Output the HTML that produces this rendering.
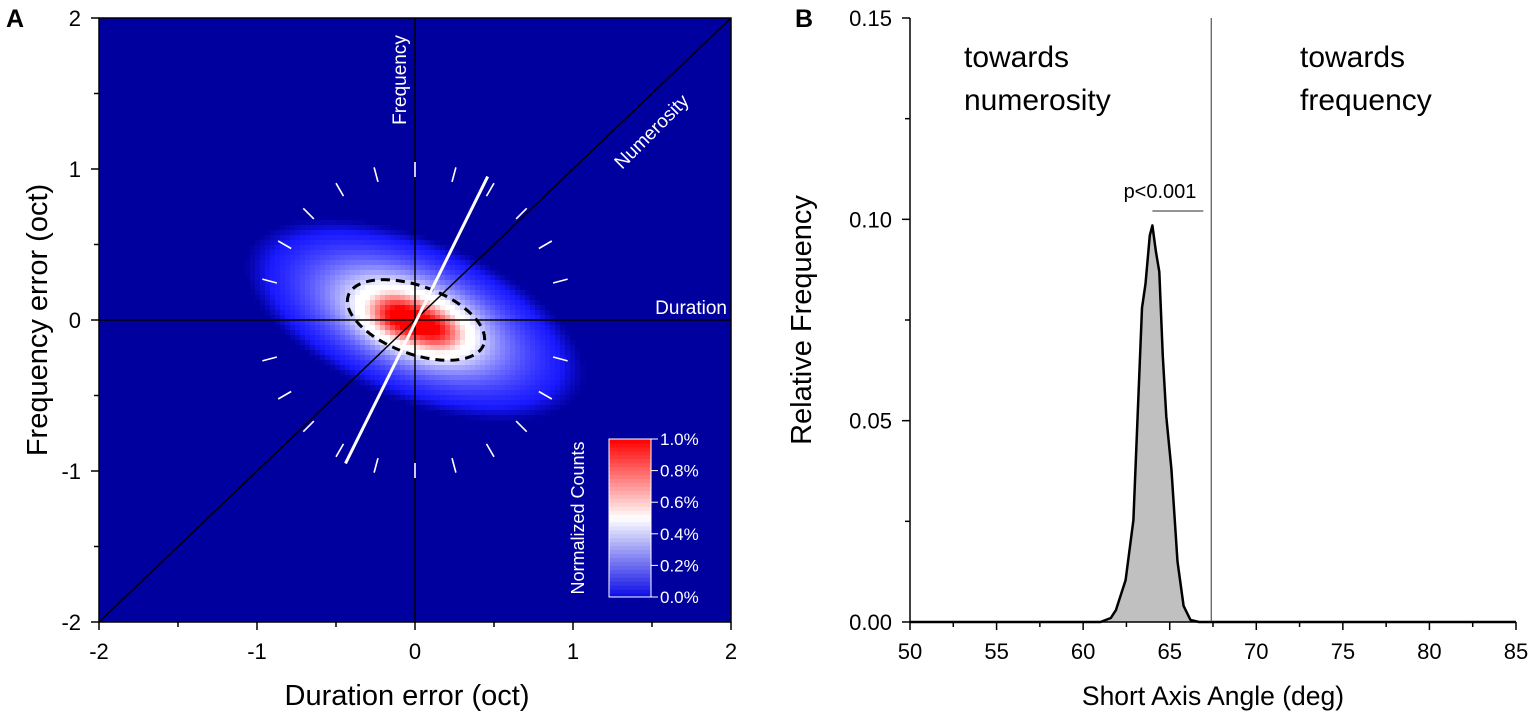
<!DOCTYPE html>
<html><head><meta charset="utf-8"><style>
html,body{margin:0;padding:0;background:#fff;}
svg{display:block;font-family:"Liberation Sans",Arial,sans-serif;}
</style></head><body>
<svg id="fig" width="1535" height="725" viewBox="0 0 1535 725" xmlns="http://www.w3.org/2000/svg">
<text x="6" y="27" font-size="25" font-weight="bold">A</text>
<text x="795" y="27" font-size="25" font-weight="bold">B</text>
<g id="pa"></g>
<g id="pb"></g>
</svg>
<script>
// ---------- Panel A data ----------
const blobX = [0.0, -0.12, 0.13, -0.02, 0.0];
const blobY = [0.0, 0.03, -0.07, 0.0, 0.0];
const blobAmp = [0.40, 0.36, 0.34, 0.16, 0.07];
const blobSigMajor = [0.46, 0.13, 0.14, 0.30, 0.62];
const blobSigMinor = [0.21, 0.10, 0.10, 0.17, 0.30];
const blobAngle = [-24, -20, -20, -24, -22];
const aTicks = [-2, -1, 0, 1, 2];
const aTickLabels = ["-2", "-1", "0", "1", "2"];
const cbTicks = [0, 0.2, 0.4, 0.6, 0.8, 1.0];
const cbLabels = ["0.0%", "0.2%", "0.4%", "0.6%", "0.8%", "1.0%"];
const shortAxis = [[-0.44, -0.95], [0.46, 0.95]];
// ---------- Panel B data ----------
const histAngle = [50, 61.0, 61.6, 61.9, 62.45, 62.9, 63.4, 63.6, 63.85, 64.0, 64.2, 64.4, 64.6, 64.8, 65.1, 65.45, 65.8, 66.2, 66.7, 85];
const histFreq = [0, 0, 0.001, 0.003, 0.0104, 0.0253, 0.078, 0.084, 0.096, 0.0985, 0.092, 0.087, 0.066, 0.051, 0.038, 0.015, 0.004, 0.0005, 0, 0];
const bXTicks = [50, 55, 60, 65, 70, 75, 80, 85];
const bYTicks = [0, 0.05, 0.10, 0.15];
const bYLabels = ["0.00", "0.05", "0.10", "0.15"];
const criticalAngle = 67.4;

const NS = "http://www.w3.org/2000/svg";
function mk(parent, tag, attrs, text) {
  const e = document.createElementNS(NS, tag);
  for (const k in attrs) e.setAttribute(k, attrs[k]);
  if (text !== undefined) e.textContent = text;
  parent.appendChild(e);
  return e;
}
// ---------- Panel A ----------
const pa = document.getElementById('pa');
const AL = 99, AT = 18, AW = 632, AH = 604;
const ax = v => AL + (v + 2) / 4 * AW;
const ay = v => AT + (2 - v) / 4 * AH;
let bg = mk(pa, 'rect', {x: AL, y: AT, width: AW, height: AH, fill: '#00009e'});


function density(x, y) {
  let s = 0;
  for (let i = 0; i < blobX.length; i++) {
    const a = blobAngle[i] * Math.PI / 180;
    const dx = x - blobX[i], dy = y - blobY[i];
    const u = dx * Math.cos(a) + dy * Math.sin(a);
    const w = -dx * Math.sin(a) + dy * Math.cos(a);
    s += blobAmp[i] * Math.exp(-0.5 * (u * u / (blobSigMajor[i] ** 2) + w * w / (blobSigMinor[i] ** 2)));
  }
  return s;
}
function cmap(v) {
  v = Math.min(1, v);
  if (v < 0.06) { const t = Math.max(0, (v - 0.03) / 0.03); return `rgb(${Math.round(25 * t)},${Math.round(25 * t)},${Math.round(158 + 97 * t)})`; }
  if (v < 0.45) { const t = (v - 0.06) / 0.39; return `rgb(${Math.round(25 + 230 * t)},${Math.round(25 + 230 * t)},255)`; }
  if (v < 0.55) return 'rgb(255,255,255)';
  const t = Math.min(1, (v - 0.55) / 0.4); return `rgb(255,${Math.round(255 * (1 - t))},${Math.round(255 * (1 - t))})`;
}
const hm = mk(pa, 'g', {});


const cs = 5;
for (let px = 160; px < 700; px += cs) {
  for (let py = 110; py < 540; py += cs) {
    const x = (px + cs / 2 - AL) / AW * 4 - 2, y = 2 - (py + cs / 2 - AT) / AH * 4;
    const v = density(x, y);
    if (v < 0.03) continue;
    const r = mk(hm, 'rect', {x: px, y: py, width: cs + 0.5, height: cs + 0.5, fill: cmap(v)});
    
    
  }
}
let l;
l = mk(pa, 'line', {x1: ax(0), y1: AT, x2: ax(0), y2: AT + AH, stroke: '#000', 'stroke-width': 1.5});
 
l = mk(pa, 'line', {x1: AL, y1: ay(0), x2: AL + AW, y2: ay(0), stroke: '#000', 'stroke-width': 1.5});
 
l = mk(pa, 'line', {x1: ax(-2), y1: ay(-2), x2: ax(2), y2: ay(2), stroke: '#000', 'stroke-width': 1.5});
 
const cx0 = ax(0), cy0 = ay(0);
for (let d = 0; d < 360; d += 15) {
  if (d % 180 === 0) continue;
  const a = d * Math.PI / 180;
  const t = mk(pa, 'line', {x1: cx0 + 143 * Math.cos(a), y1: cy0 - 143 * Math.sin(a), x2: cx0 + 158 * Math.cos(a), y2: cy0 - 158 * Math.sin(a), stroke: '#fff', 'stroke-width': 1.6});
  
  
}
const el = mk(pa, 'ellipse', {cx: 416, cy: 320, rx: 72, ry: 34, transform: 'rotate(20 416 320)', fill: 'none', stroke: '#000', 'stroke-width': 3, 'stroke-dasharray': '9 6'});
 
l = mk(pa, 'line', {x1: ax(shortAxis[0][0]), y1: ay(shortAxis[0][1]), x2: ax(shortAxis[1][0]), y2: ay(shortAxis[1][1]), stroke: '#fff', 'stroke-width': 3});
 
let tx;
tx = mk(pa, 'text', {x: 0, y: 0, transform: `translate(406,80) rotate(-90)`, 'text-anchor': 'middle', fill: '#fff', 'font-size': 19}, 'Frequency');
 
tx = mk(pa, 'text', {x: 0, y: 0, transform: `translate(656,136) rotate(-45)`, 'text-anchor': 'middle', fill: '#fff', 'font-size': 19}, 'Numerosity');
 
tx = mk(pa, 'text', {x: 727, y: 314, 'text-anchor': 'end', fill: '#fff', 'font-size': 19}, 'Duration');
 
const CBX = 609, CBT = 439, CBB = 597, CBW = 42;
const cb = mk(pa, 'g', {});
 
function cbColor(v) {
  if (v < 0.5) { const t = v / 0.5; return `rgb(${Math.round(10 + 245 * t)},${Math.round(10 + 245 * t)},${Math.round(230 + 25 * t)})`; }
  const t = (v - 0.5) / 0.5; return `rgb(255,${Math.round(255 * (1 - t))},${Math.round(255 * (1 - t))})`;
}
for (let i = 0; i < 40; i++) {
  const v = (i + 0.5) / 40;
  const r = mk(cb, 'rect', {x: CBX, y: CBB - (i + 1) * (CBB - CBT) / 40, width: CBW, height: (CBB - CBT) / 40 + 0.5, fill: cbColor(v)});
   
}
mk(cb, 'rect', {x: CBX, y: CBT, width: CBW, height: CBB - CBT, fill: 'none', stroke: '#fff', 'stroke-width': 1});
cbTicks.forEach((v, i) => {
  const y = CBB - v * (CBB - CBT);
  mk(cb, 'line', {x1: CBX + CBW, y1: y, x2: CBX + CBW + 7, y2: y, stroke: '#fff', 'stroke-width': 1});
  const t = mk(cb, 'text', {x: CBX + CBW + 9, y: y + 6, fill: '#fff', 'font-size': 17}, cbLabels[i]);
   
});
tx = mk(pa, 'text', {x: 0, y: 0, transform: `translate(584,518) rotate(-90)`, 'text-anchor': 'middle', fill: '#fff', 'font-size': 18}, 'Normalized Counts');
 
const fr = mk(pa, 'rect', {x: AL, y: AT, width: AW, height: AH, fill: 'none', stroke: '#000', 'stroke-width': 1.5});
 
aTicks.forEach((v, i) => {
  mk(pa, 'line', {x1: ax(v), y1: AT + AH, x2: ax(v), y2: AT + AH + 8, stroke: '#000', 'stroke-width': 1.5});
  if (i < aTicks.length - 1) mk(pa, 'line', {x1: ax(v + 0.5), y1: AT + AH, x2: ax(v + 0.5), y2: AT + AH + 5, stroke: '#000', 'stroke-width': 1.5});
  let t = mk(pa, 'text', {x: ax(v), y: 659, 'text-anchor': 'middle', 'font-size': 22}, aTickLabels[i]);
   
  mk(pa, 'line', {x1: AL - 8, y1: ay(v), x2: AL, y2: ay(v), stroke: '#000', 'stroke-width': 1.5});
  if (i < aTicks.length - 1) mk(pa, 'line', {x1: AL - 5, y1: ay(v + 0.5), x2: AL, y2: ay(v + 0.5), stroke: '#000', 'stroke-width': 1.5});
  t = mk(pa, 'text', {x: 81, y: ay(v) + 8, 'text-anchor': 'end', 'font-size': 22}, aTickLabels[i]);
   
});
tx = mk(pa, 'text', {x: 407, y: 705, 'text-anchor': 'middle', 'font-size': 29}, 'Duration error (oct)');
 
tx = mk(pa, 'text', {x: 0, y: 0, transform: 'translate(47,320) rotate(-90)', 'text-anchor': 'middle', 'font-size': 29}, 'Frequency error (oct)');
 

// ---------- Panel B ----------
const pb = document.getElementById('pb');
const BL = 910, BR = 1516, BT = 18, BB = 622;
const bx = v => BL + (v - 50) / 35 * (BR - BL);
const by = v => BB - v / 0.15 * (BB - BT);
let d = histAngle.map((a, i) => `${i ? 'L' : 'M'}${bx(a).toFixed(1)},${by(histFreq[i]).toFixed(1)}`).join(' ');
const area = mk(pb, 'path', {d: d + ` L${bx(85)},${by(0)} Z`, fill: '#c0c0c0', stroke: 'none'});
 
const hl = mk(pb, 'path', {d: d, fill: 'none', stroke: '#000', 'stroke-width': 2.5, 'stroke-linejoin': 'round'});
 
l = mk(pb, 'line', {x1: bx(criticalAngle), y1: BT, x2: bx(criticalAngle), y2: BB, stroke: '#555', 'stroke-width': 1.2});
 
const peakI = histFreq.indexOf(Math.max(...histFreq));
l = mk(pb, 'line', {x1: bx(histAngle[peakI]), y1: 211, x2: bx(criticalAngle) - 8, y2: 211, stroke: '#555', 'stroke-width': 1.2});
 
tx = mk(pb, 'text', {x: 1160, y: 198, 'text-anchor': 'middle', 'font-size': 20}, 'p<0.001');
 
tx = mk(pb, 'text', {x: 964, y: 67, 'font-size': 30}, 'towards');
 
mk(pb, 'text', {x: 964, y: 110, 'font-size': 30}, 'numerosity');
tx = mk(pb, 'text', {x: 1300, y: 67, 'font-size': 30}, 'towards');
 
mk(pb, 'text', {x: 1300, y: 110, 'font-size': 30}, 'frequency');
mk(pb, 'line', {x1: BL, y1: BT, x2: BL, y2: BB, stroke: '#000', 'stroke-width': 1.5});
mk(pb, 'line', {x1: BL, y1: BB, x2: BR, y2: BB, stroke: '#000', 'stroke-width': 1.5});
bXTicks.forEach((v, i) => {
  mk(pb, 'line', {x1: bx(v), y1: BB, x2: bx(v), y2: BB + 8, stroke: '#000', 'stroke-width': 1.5});
  if (i < bXTicks.length - 1) mk(pb, 'line', {x1: bx(v + 2.5), y1: BB, x2: bx(v + 2.5), y2: BB + 5, stroke: '#000', 'stroke-width': 1.5});
  const t = mk(pb, 'text', {x: bx(v), y: 659, 'text-anchor': 'middle', 'font-size': 22}, String(v));
   
});
bYTicks.forEach((v, i) => {
  mk(pb, 'line', {x1: BL - 8, y1: by(v), x2: BL, y2: by(v), stroke: '#000', 'stroke-width': 1.5});
  if (i < bYTicks.length - 1) mk(pb, 'line', {x1: BL - 5, y1: by(v + 0.025), x2: BL, y2: by(v + 0.025), stroke: '#000', 'stroke-width': 1.5});
  const t = mk(pb, 'text', {x: 892, y: by(v) + 8, 'text-anchor': 'end', 'font-size': 22}, bYLabels[i]);
   
});
tx = mk(pb, 'text', {x: 1213, y: 705, 'text-anchor': 'middle', 'font-size': 26.5}, 'Short Axis Angle (deg)');
 
tx = mk(pb, 'text', {x: 0, y: 0, transform: 'translate(811,320) rotate(-90)', 'text-anchor': 'middle', 'font-size': 29}, 'Relative Frequency');
 
</script>
</body></html>
